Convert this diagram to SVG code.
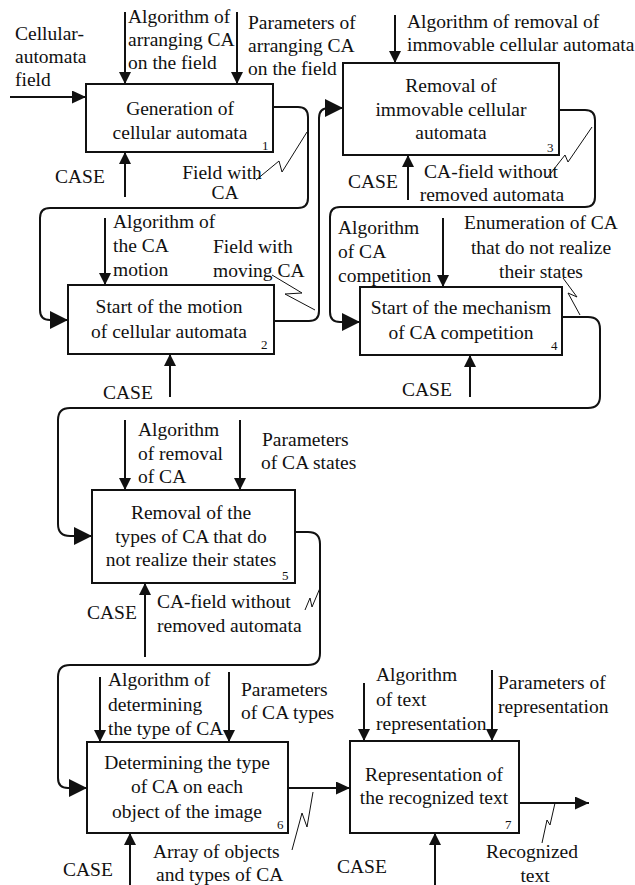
<svg xmlns="http://www.w3.org/2000/svg" width="635" height="885" viewBox="0 0 635 885" font-family="'Liberation Serif', serif">
<defs>
<style>
text{font-family:'Liberation Serif',serif;font-size:19.5px;fill:#111}
.m{text-anchor:middle}
.n{font-size:13px}
.box{fill:#fff;stroke:#111;stroke-width:2}
.c{fill:none;stroke:#111;stroke-width:2}
.ctl{marker-end:url(#sa)}
.inp{marker-end:url(#la)}
.med{marker-end:url(#ma)}
.sq{fill:none;stroke:#111;stroke-width:1}
</style>
<marker id="sa" markerUnits="userSpaceOnUse" markerWidth="12" markerHeight="12" refX="12" refY="6" orient="auto"><path d="M0,0 L12,6 L0,12 z" fill="#111"/></marker>
<marker id="ma" markerUnits="userSpaceOnUse" markerWidth="14" markerHeight="13" refX="14" refY="6.5" orient="auto"><path d="M0,0 L14,6.5 L0,13 z" fill="#111"/></marker>
<marker id="la" markerUnits="userSpaceOnUse" markerWidth="18" markerHeight="18" refX="18" refY="9" orient="auto"><path d="M0,0 L18,9 L0,18 z" fill="#111"/></marker>
</defs>
<rect width="635" height="885" fill="#fff"/>

<g id="connectors">
<path class="c med" d="M10,97 H86"/>
<path class="c ctl" d="M125,12 V84"/>
<path class="c ctl" d="M237,12 V84"/>
<path class="c ctl" d="M125,197 V152"/>
<path class="c inp" d="M273,107 H298 Q308,107 308,117 V198 Q308,208 298,208 H50 Q40,208 40,218 V310 Q40,320 50,320 H68"/>
<path class="c ctl" d="M105,218 V285"/>
<path class="c ctl" d="M170,397 V354"/>
<path class="c inp" d="M274,321 H309 Q319,321 319,311 V118 Q319,108 329,108 H343"/>
<path class="c ctl" d="M395,15 V63"/>
<path class="c ctl" d="M408,200 V155"/>
<path class="c inp" d="M559,110 H585 Q595,110 595,120 V197 Q595,207 585,207 H340 Q330,207 330,217 V312 Q330,322 340,322 H360"/>
<path class="c ctl" d="M443,218 V287"/>
<path class="c ctl" d="M470,397 V355"/>
<path class="c inp" d="M562,317 H588 Q600,317 600,329 V396 Q600,408 588,408 H70 Q58,408 58,420 V524 Q58,536 70,536 H92"/>
<path class="c ctl" d="M125,420 V490"/>
<path class="c ctl" d="M240,420 V490"/>
<path class="c ctl" d="M145,657 V583"/>
<path class="c inp" d="M295,532 H308 Q320,532 320,544 V653 Q320,665 308,665 H70 Q58,665 58,677 V778 Q58,788 68,788 H87"/>
<path class="c ctl" d="M100,677 V742"/>
<path class="c ctl" d="M229,672 V742"/>
<path class="c ctl" d="M130,885 V833"/>
<path class="c med" d="M288,788 H350"/>
<path class="c ctl" d="M364,683 V741"/>
<path class="c ctl" d="M492,670 V741"/>
<path class="c ctl" d="M435,885 V833"/>
<path class="c med" d="M519,803 H589"/>
<polyline class="sq" points="256,180 279,161 282,172 307,132"/>
<polyline class="sq" points="272,275 302,293 285,294 315,310"/>
<polyline class="sq" points="547,178 565,155 568,162 592,127"/>
<polyline class="sq" points="563,278 577,297 568,293 580,315"/>
<polyline class="sq" points="305,610 310,598 312,607 320,588"/>
<polyline class="sq" points="292,850 302,813 307,827 313,792"/>
<polyline class="sq" points="542,843 547,820 550,825 555,803"/>
</g>

<g id="labels" font-family="'Liberation Serif', serif">
<text x="15" y="40">Cellular-</text>
<text x="15" y="63">automata</text>
<text x="15" y="86">field</text>
<text x="128" y="23">Algorithm of</text>
<text x="128" y="46">arranging CA</text>
<text x="128" y="69">on the field</text>
<text x="248" y="29">Parameters of</text>
<text x="248" y="52">arranging CA</text>
<text x="248" y="75">on the field</text>
<text x="55" y="183">CASE</text>
<text class="m" x="222" y="179">Field with</text>
<text class="m" x="225" y="199">CA</text>
<text x="407" y="28">Algorithm of removal of</text>
<text x="407" y="51">immovable cellular automata</text>
<text x="348" y="188">CASE</text>
<text class="m" x="491" y="178">CA-field without</text>
<text class="m" x="492" y="201">removed automata</text>
<text x="113" y="228">Algorithm of</text>
<text x="113" y="252">the CA</text>
<text x="113" y="276">motion</text>
<text x="213" y="253">Field with</text>
<text x="213" y="277">moving CA</text>
<text x="103" y="399">CASE</text>
<text x="338" y="234">Algorithm</text>
<text x="338" y="258">of CA</text>
<text x="338" y="282">competition</text>
<text class="m" x="541" y="229">Enumeration of CA</text>
<text class="m" x="541" y="254">that do not realize</text>
<text class="m" x="541" y="278">their states</text>
<text x="402" y="396">CASE</text>
<text x="138" y="436">Algorithm</text>
<text x="138" y="460">of removal</text>
<text x="138" y="483">of CA</text>
<text x="262" y="446">Parameters</text>
<text x="261" y="469">of CA states</text>
<text x="87" y="619">CASE</text>
<text x="157" y="608">CA-field without</text>
<text x="157" y="632">removed automata</text>
<text x="108" y="686">Algorithm of</text>
<text x="108" y="711">determining</text>
<text x="108" y="735">the type of CA</text>
<text x="241" y="696">Parameters</text>
<text x="241" y="719">of CA types</text>
<text x="63" y="876">CASE</text>
<text x="153" y="858">Array of objects</text>
<text x="156" y="881">and types of CA</text>
<text x="376" y="681">Algorithm</text>
<text x="376" y="706">of text</text>
<text x="376" y="730">representation</text>
<text x="498" y="689">Parameters of</text>
<text x="498" y="713">representation</text>
<text x="337" y="873">CASE</text>
<text class="m" x="532" y="858">Recognized</text>
<text class="m" x="535" y="882">text</text>
</g>

<g id="node1" font-family="'Liberation Serif', serif">
<rect class="box" x="86" y="84" width="187" height="68"/>
<text class="m" x="180" y="115">Generation of</text>
<text class="m" x="180" y="139">cellular automata</text>
<text class="n" x="262" y="150">1</text>
</g>
<g id="node2" font-family="'Liberation Serif', serif">
<rect class="box" x="68" y="285" width="206" height="69"/>
<text class="m" x="169" y="313">Start of the motion</text>
<text class="m" x="169" y="338">of cellular automata</text>
<text class="n" x="261" y="349">2</text>
</g>
<g id="node3" font-family="'Liberation Serif', serif">
<rect class="box" x="343" y="63" width="216" height="92"/>
<text class="m" x="451" y="92">Removal of</text>
<text class="m" x="451" y="116">immovable cellular</text>
<text class="m" x="451" y="139">automata</text>
<text class="n" x="547" y="152">3</text>
</g>
<g id="node4" font-family="'Liberation Serif', serif">
<rect class="box" x="360" y="287" width="202" height="68"/>
<text class="m" x="461" y="314">Start of the mechanism</text>
<text class="m" x="461" y="339">of CA competition</text>
<text class="n" x="551" y="350">4</text>
</g>
<g id="node5" font-family="'Liberation Serif', serif">
<rect class="box" x="92" y="490" width="203" height="93"/>
<text class="m" x="191" y="519">Removal of the</text>
<text class="m" x="191" y="543">types of CA that do</text>
<text class="m" x="191" y="566">not realize their states</text>
<text class="n" x="282" y="580">5</text>
</g>
<g id="node6" font-family="'Liberation Serif', serif">
<rect class="box" x="87" y="742" width="201" height="91"/>
<text class="m" x="187" y="769">Determining the type</text>
<text class="m" x="187" y="793">of CA on each</text>
<text class="m" x="187" y="818">object of the image</text>
<text class="n" x="277" y="829">6</text>
</g>
<g id="node7" font-family="'Liberation Serif', serif">
<rect class="box" x="350" y="741" width="169" height="92"/>
<text class="m" x="434" y="781">Representation of</text>
<text class="m" x="434" y="804">the recognized text</text>
<text class="n" x="505" y="829">7</text>
</g>
</svg>
